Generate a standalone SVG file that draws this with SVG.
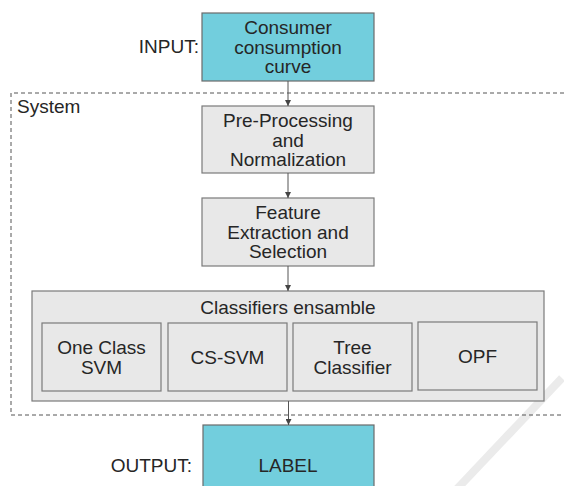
<svg xmlns="http://www.w3.org/2000/svg" width="564" height="486" viewBox="0 0 564 486">
<defs>
<style>
text{font-family:"Liberation Sans",Arial,sans-serif;font-size:19px;fill:#262626;}
.c{text-anchor:middle;}
.cyan{fill:#72cedd;stroke:#6b6b6b;stroke-width:1.2;}
.gray{fill:#e8e8e8;stroke:#7a7a7a;stroke-width:1.2;}
.conn{stroke:#555;stroke-width:1;fill:none;marker-end:url(#ah);}
.dash{stroke:#555;stroke-width:1;fill:none;stroke-dasharray:4 3;}
</style>
<marker id="ah" viewBox="0 0 6 6" refX="6" refY="3" markerWidth="6" markerHeight="6" markerUnits="userSpaceOnUse" orient="auto">
<path d="M0,0 L6,3 L0,6 Z" fill="#444"/>
</marker>
</defs>
<rect width="564" height="486" fill="#fff"/>
<line x1="562" y1="378" x2="456" y2="490" stroke="#ebebeb" stroke-width="8"/>
<g id="system">
<path class="dash" d="M564,93 H11 V415 H564"/>
<text x="17" y="113">System</text>
</g>
<g id="input-label"><text x="199" y="53" text-anchor="end">INPUT:</text></g>
<g id="output-label"><text x="192" y="472" text-anchor="end">OUTPUT:</text></g>
<g id="input">
<rect class="cyan" x="202" y="13" width="172" height="68"/>
<text class="c" x="288" y="34">Consumer</text>
<text class="c" x="288" y="53.5">consumption</text>
<text class="c" x="288" y="73">curve</text>
</g>
<g id="preprocessing">
<rect class="gray" x="202" y="106" width="172" height="67"/>
<text class="c" x="288" y="127">Pre-Processing</text>
<text class="c" x="288" y="146.5">and</text>
<text class="c" x="288" y="166">Normalization</text>
</g>
<g id="feature">
<rect class="gray" x="202" y="198" width="172" height="68"/>
<text class="c" x="288" y="219">Feature</text>
<text class="c" x="288" y="238.5">Extraction and</text>
<text class="c" x="288" y="258">Selection</text>
</g>
<g id="ensemble">
<rect class="gray" x="32" y="291" width="512" height="110"/>
<text class="c" x="288" y="314">Classifiers ensamble</text>
</g>
<g id="oneclass">
<rect class="gray" x="42" y="323" width="119" height="68"/>
<text class="c" x="101.5" y="354">One Class</text>
<text class="c" x="101.5" y="373.5">SVM</text>
</g>
<g id="cssvm">
<rect class="gray" x="168" y="323" width="119" height="68"/>
<text class="c" x="227.5" y="364">CS-SVM</text>
</g>
<g id="tree">
<rect class="gray" x="293" y="323" width="119" height="68"/>
<text class="c" x="352.5" y="354">Tree</text>
<text class="c" x="352.5" y="373.5">Classifier</text>
</g>
<g id="opf">
<rect class="gray" x="418" y="322" width="119" height="68"/>
<text class="c" x="477.5" y="363">OPF</text>
</g>
<g id="output">
<rect class="cyan" x="203" y="425" width="171" height="70"/>
<text class="c" x="288" y="472">LABEL</text>
</g>
<g id="connectors">
<line class="conn" x1="288" y1="81" x2="288" y2="106"/>
<line class="conn" x1="288" y1="173" x2="288" y2="198"/>
<line class="conn" x1="288" y1="266" x2="288" y2="291"/>
<line class="conn" x1="288.5" y1="401" x2="288.5" y2="425"/>
</g>
</svg>
